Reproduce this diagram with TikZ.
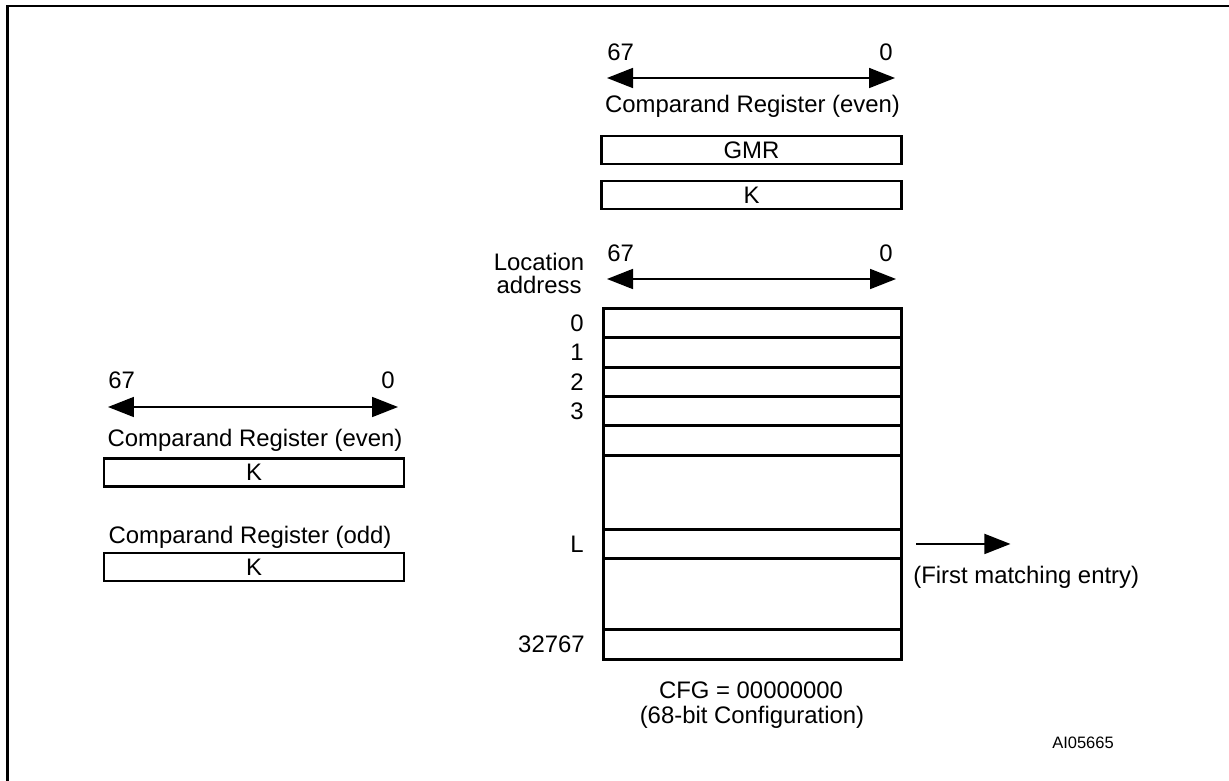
\documentclass[tikz,border=0pt]{standalone}
\usepackage{fontspec}
\setmainfont{Liberation Sans}
\usepackage{tikz}
\usetikzlibrary{arrows.meta}
\usetikzlibrary{positioning}

\begin{document}
\begin{tikzpicture}[x=0.02cm,y=-0.02cm]
				\tikzstyle{every node}=[font=\fontsize{13.6}{16}\selectfont,inner sep=0pt]
				\tikzstyle{regbox}=[draw,line width=1.6pt,outer sep=0pt,minimum width=6cm,minimum height=0.56cm]
				\tikzstyle{rowbox}=[draw,line width=1.6pt,outer sep=0pt,minimum width=5.96cm,minimum height=0.58cm]
				\tikzstyle{bitarrow}=[line width=1pt,{Triangle[length=0.52cm,width=0.4cm]}-{Triangle[length=0.52cm,width=0.4cm]}]
				\tikzstyle{hitarrow}=[line width=1pt,-{Triangle[length=0.52cm,width=0.4cm]}]
				\useasboundingbox (0,0) rectangle (1229,780);
				\draw[line width=1.5pt] (7.5,782) -- (7.5,6) -- (1231,6);

				\coordinate (topl) at (607,78);
				\coordinate (topr) at (895,78);
				\draw[bitarrow] (topl) -- (topr);
				\node[anchor=west] (tophi) at (607,52) {67};
				\node[anchor=east] (toplo) at (893,52) {0};
				\node (topcmp) at (752.5,106) {Comparand Register (even)};
				\node[regbox] (gmr) at (751.5,150) {GMR};
				\node[regbox,below=0.34cm of gmr] (topk) {K};

				\node (loc) at (539,262) {Location};
				\node (addr) at (539,285) {address};
				\coordinate (tabl) at (607,279);
				\coordinate (tabr) at (896,279);
				\draw[bitarrow] (tabl) -- (tabr);
				\node[anchor=west] (tabhi) at (607,253) {67};
				\node[anchor=east] (tablo) at (893,253) {0};

				\node[rowbox] (row0) at (752.5,323) {};
				\node[rowbox,below=0pt of row0,minimum height=0.6cm] (row1) {};
				\node[rowbox,below=0pt of row1] (row2) {};
				\node[rowbox,below=0pt of row2] (row3) {};
				\node[rowbox,below=0pt of row3,minimum height=0.6cm] (row4) {};
				\node[rowbox,below=0pt of row4,minimum height=1.48cm] (gapa) {};
				\node[rowbox,below=0pt of gapa] (rowl) {};
				\node[rowbox,below=0pt of rowl,minimum height=1.42cm] (gapb) {};
				\node[rowbox,below=0pt of gapb,minimum height=0.6cm] (rowend) {};
				\node[left=0.39cm of row0] (adr0) {0};
				\node[left=0.39cm of row1] (adr1) {1};
				\node[left=0.39cm of row2] (adr2) {2};
				\node[left=0.39cm of row3] (adr3) {3};
				\node[left=0.39cm of rowl] (adrl) {L};
				\node[left=0.37cm of rowend] (adrend) {32767};

				\coordinate[right=0.3cm of rowl] (hita);
				\coordinate[right=1.88cm of hita] (hitb);
				\draw[hitarrow] (hita) -- (hitb);
				\node[anchor=west] (first) at (913,577) {(First matching entry)};

				\node (cfg) at (751,690) {CFG = 00000000};
				\node (cfgnote) at (752,717) {(68-bit Configuration)};
				\node[font=\fontsize{9.4}{11}\selectfont] (figid) at (1083,743) {AI05665};

				\coordinate (leftl) at (108,407);
				\coordinate (leftr) at (398,407);
				\draw[bitarrow] (leftl) -- (leftr);
				\node[anchor=west] (lefthi) at (108,380) {67};
				\node[anchor=east] (leftlo) at (395,380) {0};
				\node (evencmp) at (255,440) {Comparand Register (even)};
				\node[regbox] (evenk) at (254,472.5) {K};
				\node (oddcmp) at (250,537) {Comparand Register (odd)};
				\node[regbox] (oddk) at (254,567) {K};
\end{tikzpicture}
\end{document}
